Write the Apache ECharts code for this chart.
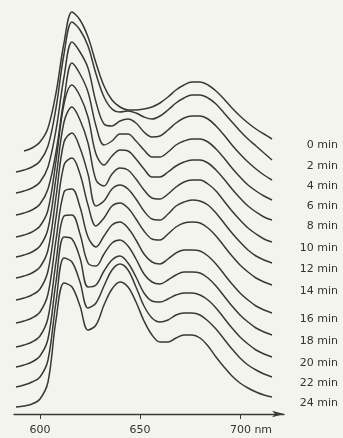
<!DOCTYPE html>
<html>
<head>
<meta charset="utf-8">
<script src="https://cdn.jsdelivr.net/npm/echarts@6/dist/echarts.min.js"></script>
<style>
  html, body { margin: 0; padding: 0; background: #f4f4ef; }
  #chart { width: 343px; height: 438px; }
</style>
</head>
<body>
<div id="chart"></div>
<script>
// wavelength (nm) of each reading, every 4 nm
const wavelengths = [588, 592, 596, 600, 604, 608, 612, 616, 620, 624, 628, 632, 636, 640, 644, 648, 652, 656, 660, 664, 668, 672, 676, 680, 684, 688, 692, 696, 700, 704, 708, 712, 716];

const timeLabels = ['0 min', '2 min', '4 min', '6 min', '8 min', '10 min', '12 min', '14 min', '16 min', '18 min', '20 min', '22 min', '24 min'];

// stacked spectra, arbitrary units (offsets as drawn in the figure)
const spec0 = [null, 263, 266, 272, 286, 321, 371, 402, 394, 377, 351, 328, 314, 307, 304, 304, 305, 307, 311, 317, 324, 329, 332, 332, 329, 323, 315, 306, 298, 291, 285, 280, 275];
const spec2 = [242, 244, 247, 253, 268, 306, 360, 392, 384, 368, 340, 317, 305, 302, 303, 301, 297, 295, 298, 304, 311, 316, 319, 319, 316, 310, 301, 292, 283, 275, 268, 261, 254];
const spec4 = [221, 223, 226, 232, 247, 284, 337, 372, 362, 346, 312, 290, 288, 293, 295, 291, 282, 277, 278, 284, 291, 296, 298, 298, 295, 288, 279, 269, 260, 252, 245, 239, 234];
const spec6 = [199, 201, 204, 210, 225, 262, 315, 351, 340, 322, 288, 269, 273, 280, 280, 273, 264, 257, 257, 262, 269, 273, 275, 275, 272, 265, 256, 246, 237, 229, 223, 218, 214];
const spec8 = [177, 179, 182, 188, 204, 253, 310, 329, 318, 297, 260, 249, 258, 264, 263, 255, 245, 237, 237, 242, 248, 252, 254, 254, 251, 244, 235, 225, 216, 208, 202, 197, 194];
const spec10 = [157, 159, 162, 168, 185, 236, 292, 307, 294, 271, 234, 228, 240, 246, 244, 235, 224, 216, 215, 220, 227, 232, 234, 234, 230, 223, 213, 203, 194, 186, 180, 175, 172];
const spec12 = [136, 138, 141, 147, 164, 217, 272, 281, 266, 240, 208, 213, 225, 229, 225, 215, 203, 195, 194, 200, 208, 212, 214, 213, 209, 201, 191, 181, 172, 164, 158, 154, 151];
const spec14 = [114, 116, 119, 125, 143, 196, 249, 256, 240, 209, 188, 196, 208, 211, 206, 195, 183, 175, 174, 180, 187, 191, 192, 191, 186, 178, 168, 158, 149, 142, 136, 132, 129];
const spec16 = [91, 93, 96, 102, 120, 174, 222, 225, 207, 177, 167, 178, 189, 192, 186, 174, 160, 152, 150, 155, 161, 164, 164, 163, 158, 150, 140, 130, 121, 114, 108, 104, 101];
const spec18 = [67, 69, 72, 78, 96, 152, 198, 199, 180, 151, 148, 160, 171, 174, 168, 155, 140, 132, 130, 134, 139, 142, 142, 141, 136, 128, 118, 108, 99, 92, 86, 82, 79];
const spec20 = [47, 49, 52, 58, 75, 132, 177, 175, 156, 127, 129, 143, 154, 158, 151, 137, 121, 113, 112, 115, 119, 121, 121, 119, 114, 106, 96, 86, 77, 70, 64, 60, 57];
const spec22 = [27, 29, 32, 37, 54, 112, 156, 152, 132, 106, 111, 128, 144, 150, 144, 127, 108, 96, 92, 94, 99, 101, 101, 99, 93, 85, 75, 65, 56, 49, 44, 40, 37];
const spec24 = [7, 8, 10, 15, 32, 94, 131, 127, 108, 84, 89, 109, 125, 132, 127, 112, 93, 79, 72, 72, 76, 79, 79, 76, 68, 57, 47, 38, 31, 26, 22, 19, 17];

const spectra = [spec0, spec2, spec4, spec6, spec8, spec10, spec12, spec14, spec16, spec18, spec20, spec22, spec24];

const xTicks = [600, 650, 700];

const ink = '#383838';
const font = 'DejaVu Sans';

const series = spectra.map((vals, i) => ({
    name: timeLabels[i],
    type: 'line',
    data: vals.map((v, j) => [wavelengths[j], v]),
    smooth: 0.35,
    showSymbol: false,
    lineStyle: { color: ink, width: 1.5 },
    endLabel: {
        show: true,
        formatter: '{a}',
        color: '#333',
        fontFamily: font,
        fontSize: 11,
        align: 'right',
        distance: 0,
        offset: [66, 6]
    }
}));

const option = {
    backgroundColor: '#f4f4ef',
    animation: false,
    grid: { left: 14, right: 59, top: 4, bottom: 24 },
    xAxis: {
        type: 'value',
        min: 587,
        max: 722,
        splitLine: { show: false },
        axisLine: {
            lineStyle: { color: ink, width: 1.3 },
            symbol: ['none', 'arrow'],
            symbolSize: [5, 12]
        },
        axisTick: {
            customValues: xTicks,
            length: 5,
            lineStyle: { color: ink }
        },
        axisLabel: {
            customValues: xTicks,
            color: '#333',
            fontFamily: font,
            fontSize: 11,
            margin: 11,
            formatter: v => v === 700 ? '{u|700 nm}' : String(v),
            rich: { u: { padding: [0, 0, 0, 22], fontFamily: font, fontSize: 11, color: '#333' } }
        }
    },
    yAxis: {
        type: 'value',
        min: 0,
        max: 410,
        show: false
    },
    series: series
};

const chart = echarts.init(document.getElementById('chart'));
chart.setOption(option);
</script>
</body>
</html>
